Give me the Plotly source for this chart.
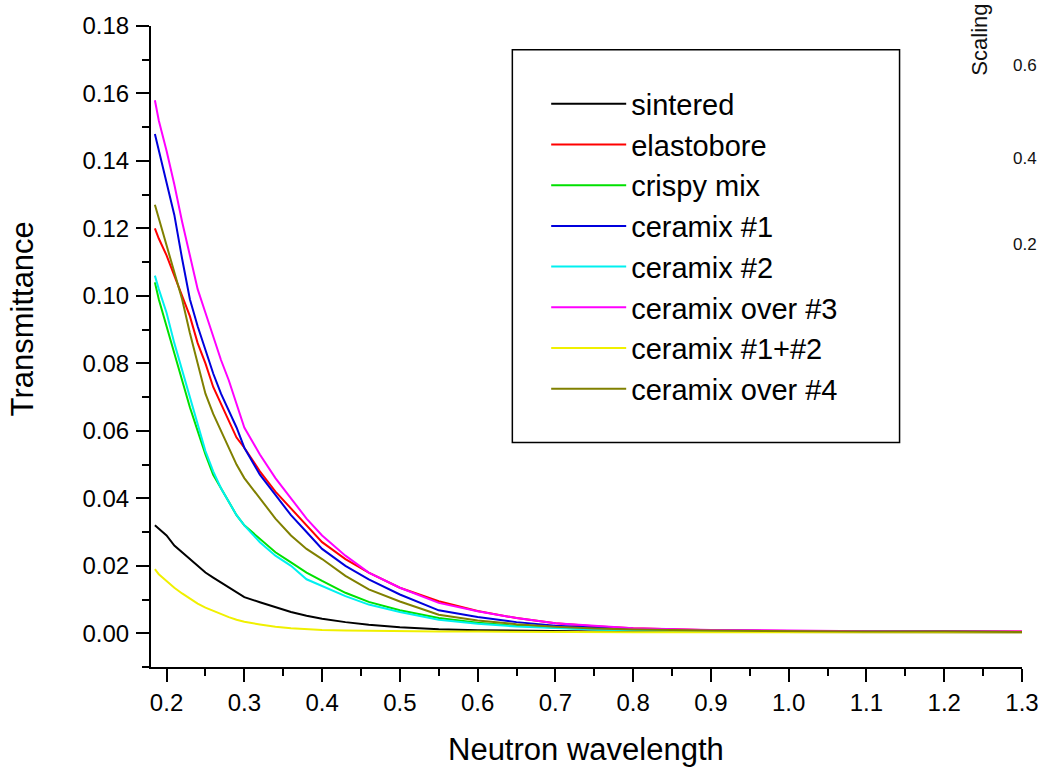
import plotly.graph_objects as go

# ---- data ----
wavelength = [0.185, 0.19, 0.20, 0.21, 0.22, 0.23, 0.24, 0.25, 0.26, 0.27, 0.28, 0.29,
              0.30, 0.32, 0.34, 0.36, 0.38, 0.40, 0.43, 0.46, 0.50, 0.55, 0.60, 0.65,
              0.70, 0.75, 0.80, 0.90, 1.00, 1.10, 1.20, 1.30]

sintered = [0.032, 0.031, 0.029, 0.026, 0.024, 0.022, 0.020, 0.018, 0.0165, 0.015, 0.0135, 0.012,
            0.0107, 0.0092, 0.0077, 0.0063, 0.0052, 0.0043, 0.0033, 0.0025, 0.0018, 0.0012, 0.0009, 0.0007,
            0.0006, 0.0005, 0.0004, 0.0004, 0.0003, 0.0003, 0.0003, 0.0003]

elastobore = [0.120, 0.117, 0.112, 0.106, 0.100, 0.094, 0.086, 0.080, 0.073, 0.068, 0.063, 0.058,
              0.055, 0.048, 0.042, 0.037, 0.032, 0.027, 0.022, 0.018, 0.0135, 0.0095, 0.0066, 0.0045,
              0.0030, 0.0021, 0.0015, 0.0009, 0.0007, 0.0006, 0.0005, 0.0005]

crispy_mix = [0.104, 0.099, 0.091, 0.083, 0.075, 0.067, 0.060, 0.053, 0.047, 0.043, 0.039, 0.035,
              0.032, 0.028, 0.024, 0.021, 0.018, 0.0155, 0.012, 0.0093, 0.0068, 0.0045, 0.0031, 0.0022,
              0.0016, 0.0012, 0.0010, 0.0007, 0.0006, 0.0005, 0.0005, 0.0004]

ceramix_1 = [0.148, 0.143, 0.134, 0.124, 0.111, 0.099, 0.091, 0.084, 0.077, 0.071, 0.066, 0.061,
             0.055, 0.047, 0.041, 0.035, 0.030, 0.025, 0.020, 0.016, 0.0115, 0.0068, 0.0048, 0.0033,
             0.0022, 0.0016, 0.0012, 0.0008, 0.0006, 0.0005, 0.0005, 0.0004]

ceramix_2 = [0.106, 0.102, 0.095, 0.086, 0.078, 0.070, 0.062, 0.054, 0.048, 0.043, 0.039, 0.035,
             0.032, 0.027, 0.023, 0.020, 0.016, 0.014, 0.011, 0.0085, 0.0063, 0.0040, 0.0028, 0.0020,
             0.0015, 0.0011, 0.0009, 0.0007, 0.0006, 0.0005, 0.0004, 0.0004]

ceramix_over_3 = [0.158, 0.152, 0.143, 0.133, 0.122, 0.112, 0.102, 0.095, 0.088, 0.081, 0.075, 0.068,
                  0.061, 0.053, 0.046, 0.040, 0.034, 0.029, 0.023, 0.018, 0.0135, 0.0090, 0.0065, 0.0045,
                  0.0030, 0.0022, 0.0015, 0.0010, 0.0007, 0.0006, 0.0005, 0.0005]

ceramix_1_2 = [0.019, 0.0175, 0.0155, 0.0135, 0.0118, 0.0102, 0.0088, 0.0076, 0.0066, 0.0056, 0.0048, 0.0040,
               0.0034, 0.0026, 0.0019, 0.0015, 0.0012, 0.0010, 0.0008, 0.0007, 0.0006, 0.0005, 0.0005, 0.0004,
               0.0004, 0.0004, 0.0003, 0.0003, 0.0003, 0.0003, 0.0003, 0.0003]

ceramix_over_4 = [0.127, 0.123, 0.115, 0.107, 0.099, 0.089, 0.080, 0.071, 0.065, 0.060, 0.055, 0.050,
                  0.046, 0.040, 0.034, 0.029, 0.025, 0.022, 0.017, 0.013, 0.0094, 0.0055, 0.0038, 0.0027,
                  0.0019, 0.0014, 0.0011, 0.0008, 0.0006, 0.0005, 0.0005, 0.0004]

series_names = ["sintered", "elastobore", "crispy mix", "ceramix #1", "ceramix #2",
                "ceramix over #3", "ceramix #1+#2", "ceramix over #4"]
series_values = [sintered, elastobore, crispy_mix, ceramix_1, ceramix_2,
                 ceramix_over_3, ceramix_1_2, ceramix_over_4]
series_colors = ["#000000", "#ff0000", "#00e000", "#0000dd", "#00f0f0",
                 "#ff00ff", "#f0f000", "#808000"]

x_ticks = [0.2, 0.3, 0.4, 0.5, 0.6, 0.7, 0.8, 0.9, 1.0, 1.1, 1.2, 1.3]
y_ticks = [0.00, 0.02, 0.04, 0.06, 0.08, 0.10, 0.12, 0.14, 0.16, 0.18]

FONT = "Liberation Sans, Arial, sans-serif"

fig = go.Figure()
for name, vals, col in zip(series_names, series_values, series_colors):
    fig.add_trace(go.Scatter(x=wavelength, y=vals, mode="lines", name=name,
                             line=dict(color=col, width=2)))

W, H = 1051, 772
L, R, T, B = 151, 25, 19, 105
pw, ph = W - L - R, H - T - B

def px_x(p):
    return (p - L) / pw

def px_y(p):
    return (H - B - p) / ph

fig.update_layout(
    width=W, height=H,
    margin=dict(l=L, r=R, t=T, b=B, pad=0),
    paper_bgcolor="white", plot_bgcolor="white",
    font=dict(family=FONT, color="black"),
    showlegend=True,
    legend=dict(
        x=px_x(548), y=px_y(72), xanchor="left", yanchor="top",
        bgcolor="rgba(0,0,0,0)", borderwidth=0,
        font=dict(size=29, family=FONT, color="black"),
        itemwidth=75,
    ),
    xaxis=dict(
        range=[0.18, 1.3], tickvals=x_ticks, ticktext=[f"{v:.1f}" for v in x_ticks],
        showgrid=False, zeroline=False, showline=True, linecolor="black", linewidth=2,
        ticks="outside", ticklen=13, tickwidth=2, tickcolor="black",
        tickfont=dict(size=24, family=FONT, color="black"),
        minor=dict(dtick=0.05, tick0=0.15, ticks="outside", ticklen=7, tickwidth=2, tickcolor="black"),
    ),
    yaxis=dict(
        range=[-0.01, 0.18], tickvals=y_ticks, ticktext=[f"{v:.2f}" for v in y_ticks],
        showgrid=False, zeroline=False, showline=True, linecolor="black", linewidth=2,
        ticks="outside", ticklen=13, tickwidth=2, tickcolor="black",
        tickfont=dict(size=24, family=FONT, color="black"),
        ticklabelstandoff=2,
        minor=dict(dtick=0.01, tick0=0, ticks="outside", ticklen=7, tickwidth=2, tickcolor="black"),
    ),
    shapes=[dict(type="rect", xref="paper", yref="paper",
                 x0=px_x(514), x1=px_x(903), y0=px_y(440), y1=px_y(43),
                 line=dict(color="black", width=1.5), fillcolor="rgba(0,0,0,0)")],
    annotations=[
        dict(text="Neutron wavelength", xref="paper", yref="paper",
             x=px_x(588), y=px_y(750), xanchor="center", yanchor="middle",
             showarrow=False, font=dict(size=31, family=FONT, color="black")),
        dict(text="Transmittance", xref="paper", yref="paper",
             x=px_x(22), y=px_y(315), xanchor="center", yanchor="middle",
             textangle=-90, showarrow=False, font=dict(size=31, family=FONT, color="black")),
        dict(text="Scaling", xref="paper", yref="paper",
             x=px_x(983), y=px_y(71), xanchor="center", yanchor="bottom",
             textangle=-90, showarrow=False, font=dict(size=22, family=FONT, color="#111")),
        dict(text="0.6", xref="paper", yref="paper", x=px_x(1029), y=px_y(59),
             xanchor="center", yanchor="middle", showarrow=False,
             font=dict(size=17, family=FONT, color="#111")),
        dict(text="0.4", xref="paper", yref="paper", x=px_x(1029), y=px_y(153),
             xanchor="center", yanchor="middle", showarrow=False,
             font=dict(size=17, family=FONT, color="#111")),
        dict(text="0.2", xref="paper", yref="paper", x=px_x(1029), y=px_y(240),
             xanchor="center", yanchor="middle", showarrow=False,
             font=dict(size=17, family=FONT, color="#111")),
    ],
)

fig.write_html("out.html", config={"displayModeBar": False},
               post_script="document.body.style.margin='0px';document.body.style.overflow='hidden';")
